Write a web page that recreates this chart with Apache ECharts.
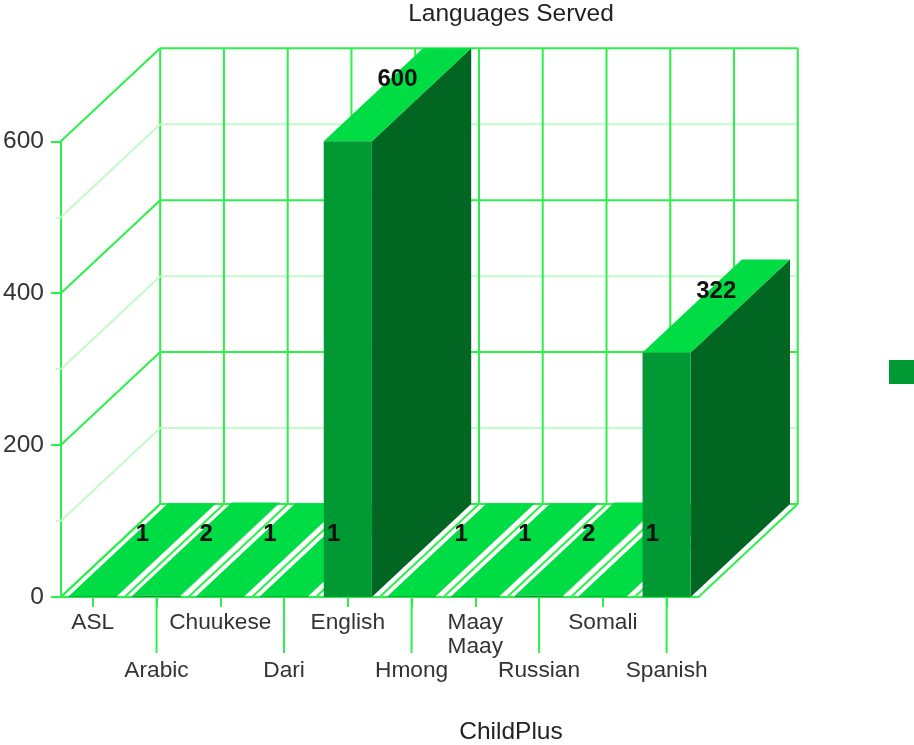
<!DOCTYPE html>
<html>
<head>
<meta charset="utf-8">
<style>html,body{margin:0;padding:0;background:#fff}#c{width:914px;height:745px}</style>
<script src="https://cdn.jsdelivr.net/npm/echarts@6/dist/echarts.min.js"></script>
</head>
<body>
<div id="c"></div>
<script>
const categories = ['ASL','Arabic','Chuukese','Dari','English','Hmong','Maay Maay','Russian','Somali','Spanish'];
const values = [1,2,1,1,600,1,1,2,1,322];
const majorTicks = [0,200,400,600];
const minorTicks = [100,300,500];
const seriesName = 'ChildPlus';
const chartTitle = 'Languages Served';

const DX = 99.3, DY = 93;
const GREEN = '#2cf04a', LIGHT = '#c4fbc8';
const FONT = '"Liberation Sans", Arial, sans-serif';

function seg(x1,y1,x2,y2,color,w){
  return {type:'line',shape:{x1,y1,x2,y2},style:{stroke:color,lineWidth:w,fill:null},silent:true};
}
function poly(points,color,opacity){
  return {type:'polygon',shape:{points},style:{fill:color,stroke:null,opacity:opacity==null?1:opacity},silent:true};
}

function renderFrame(params,api){
  const i = api.value(0);
  const band = api.size([1,0])[0];
  const c0 = api.coord([i,0]);
  const left = c0[0]-band/2, right = c0[0]+band/2, y0 = c0[1];
  const kids = [];
  const top = api.coord([i,600])[1];
  kids.push(seg(left+DX,top-DY,left+DX,y0-DY,GREEN,2));
  kids.push(seg(left,y0,left+DX,y0-DY,GREEN,2));
  if(i===categories.length-1){
    kids.push(seg(right+DX,top-DY,right+DX,y0-DY,GREEN,2));
    kids.push(seg(right,y0,right+DX,y0-DY,GREEN,2));
  }
  if(i===0){
    const x0 = left, x1 = left+band*categories.length;
    minorTicks.forEach(v=>{
      const y = api.coord([0,v])[1];
      kids.push(seg(x0,y,x0+DX,y-DY,LIGHT,2));
      kids.push(seg(x0+DX,y-DY,x1+DX,y-DY,LIGHT,2));
    });
    majorTicks.forEach(v=>{
      const y = api.coord([0,v])[1];
      kids.push(seg(x0,y,x0+DX,y-DY,GREEN,2));
      kids.push(seg(x0+DX,y-DY,x1+DX,y-DY,GREEN,2));
    });
  }
  if(i%2===1) kids.push(seg(c0[0],y0,c0[0],y0+56,GREEN,2));
  return {type:'group',children:kids};
}

function renderBar(params,api){
  const i = api.value(0), v = api.value(1);
  const band = api.size([1,0])[0];
  const w = band*0.755;
  const p0 = api.coord([i,0]), p1 = api.coord([i,v]);
  const xl = p0[0]-w/2, xr = p0[0]+w/2, yb = p0[1], yt = p1[1];
  const sideOpacity = Math.min(1,(yb-yt)/8);
  return {type:'group',children:[
    poly([[xr,yb],[xr+DX,yb-DY],[xr+DX,yt-DY],[xr,yt]],'#006622',sideOpacity),
    poly([[xl,yt],[xr,yt],[xr+DX,yt-DY],[xl+DX,yt-DY]],'#00dd44'),
    poly([[xl,yb],[xr,yb],[xr,yt],[xl,yt]],'#009933')
  ]};
}

function renderLabel(params,api){
  const i = api.value(0), v = api.value(1);
  const p = api.coord([i,v]);
  return {type:'text',x:p[0]+DX/2,y:p[1]-DY/2-15,silent:true,
    style:{text:String(v),fill:'#111',font:'bold 24px '+FONT,textAlign:'center',textVerticalAlign:'middle'}};
}

const chart = echarts.init(document.getElementById('c'),null,{renderer:'canvas'});
const rows = categories.map((c,i)=>[i,values[i]]);
chart.setOption({
  animation:false,
  backgroundColor:'#fff',
  title:[
    {text:chartTitle,left:506,top:-3,textAlign:'center',textStyle:{fontFamily:FONT,fontSize:24.5,fontWeight:'normal',color:'#222'}},
    {text:seriesName,left:506,top:715,textAlign:'center',textStyle:{fontFamily:FONT,fontSize:24.5,fontWeight:'normal',color:'#222'}}
  ],
  legend:{data:[seriesName],left:889,top:360,itemWidth:25,itemHeight:24,padding:0,formatter:()=>'',selectedMode:false,
    icon:'rect'},
  grid:{left:60.5,right:215.5,top:141.3,bottom:148,containLabel:false},
  xAxis:{type:'category',data:categories,
    axisLine:{lineStyle:{color:GREEN,width:2}},
    axisTick:{show:true,alignWithLabel:true,length:10,lineStyle:{color:GREEN,width:2}},
    splitLine:{show:false},
    axisLabel:{interval:0,hideOverlap:false,margin:14,color:'#333',fontFamily:FONT,fontSize:22.7,lineHeight:24,
      formatter:(s,i)=>(i%2===1?'\n\n':'')+s.replace(' ','\n')}},
  yAxis:{type:'value',min:0,max:600,interval:200,
    axisLine:{show:true,lineStyle:{color:GREEN,width:2}},
    axisTick:{show:true,length:10,lineStyle:{color:GREEN,width:2}},
    minorTick:{show:true,splitNumber:2,length:5,lineStyle:{color:LIGHT,width:2}},
    splitLine:{show:false},minorSplitLine:{show:false},
    axisLabel:{margin:17,color:'#333',fontFamily:FONT,fontSize:24.5,padding:[4,0,0,0]}},
  series:[
    {type:'custom',name:'frame',renderItem:renderFrame,data:rows,encode:{x:0,y:1},silent:true,z:1},
    {type:'custom',name:seriesName,renderItem:renderBar,data:rows,encode:{x:0,y:1},itemStyle:{color:'#009933'},silent:true,z:2},
    {type:'custom',name:'labels',renderItem:renderLabel,data:rows,encode:{x:0,y:1},silent:true,z:5}
  ]
});
</script>
</body>
</html>
